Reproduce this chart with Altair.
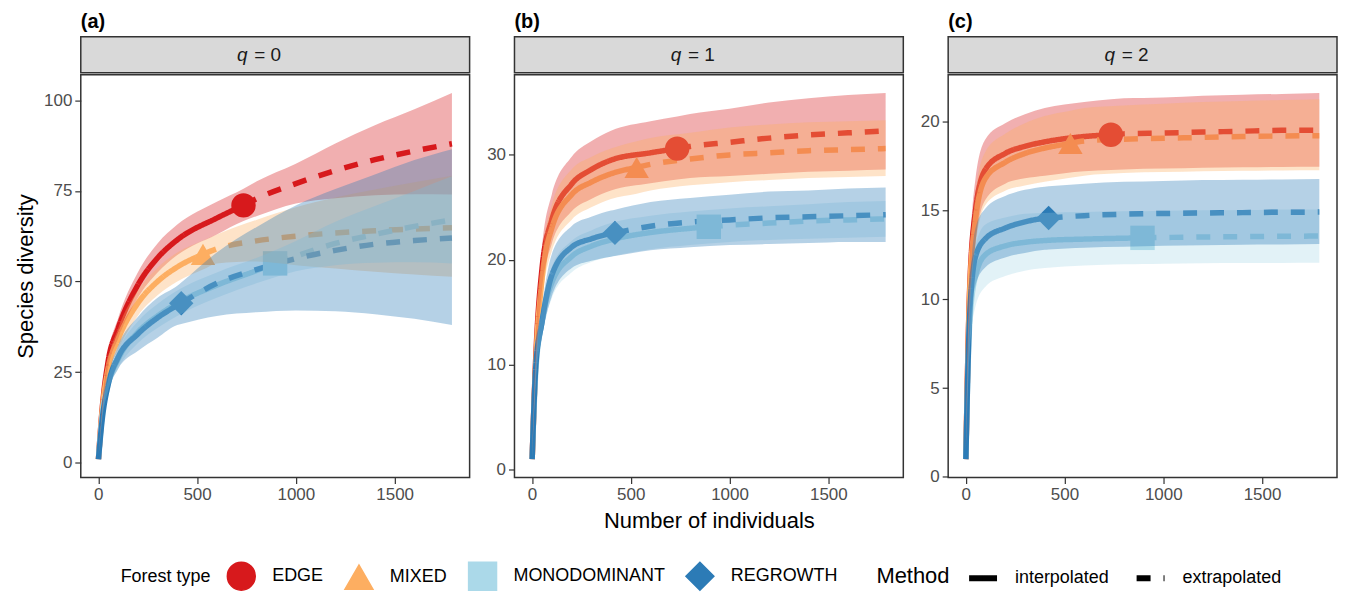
import altair as alt
import pandas as pd

# ---------------- data ----------------
FOREST_TYPES = ["EDGE", "MIXED", "MONODOMINANT", "REGROWTH"]
COLORS = ["#D7191C", "#FDAE61", "#ABD9E9", "#2C7BB6"]
SHAPES = ["circle", "triangle-up", "square", "diamond"]
METHODS = ["interpolated", "extrapolated"]
OBS_N = [735, 530, 895, 420]
Q_LABELS = ["0", "1", "2"]
PANEL_TAGS = ["(a)", "(b)", "(c)"]
X_GRID = [1, 20, 50, 100, 200, 300, 400, 600, 800, 1000, 1200, 1400, 1600, 1790]
X_TICKS = [0, 500, 1000, 1500]

# q = 0
Q0_EDGE_EST = [1, 15, 28, 37, 49, 56.5, 61.5, 67.5, 72.8, 77, 80.6, 83.6, 86, 88]
Q0_EDGE_LO = [1, 14, 26, 34.2, 45.5, 52.5, 57.3, 63, 68, 71.5, 73, 73.8, 74.1, 74]
Q0_EDGE_HI = [1, 16, 30, 39.8, 52.5, 60.5, 65.7, 72, 77.6, 82.5, 88.1, 93.1, 97.5, 102]
Q0_MIXED_EST = [1, 14.5, 26, 34, 44, 50, 54, 59, 61.2, 62.5, 63.4, 64, 64.5, 64.8]
Q0_MIXED_LO = [1, 13.5, 24, 31, 40.5, 46.2, 50, 55, 55.5, 54.5, 53.6, 52.7, 51.9, 51.3]
Q0_MIXED_HI = [1, 15.5, 28, 37, 47.5, 53.8, 58, 63, 67, 70.5, 73.2, 75.4, 77.4, 79.2]
Q0_MONO_EST = [1, 13, 21.5, 28.5, 36, 40.5, 44, 49, 53, 57, 60.5, 63, 65.2, 67]
Q0_MONO_LO = [1, 12, 19.8, 26, 33, 37.2, 40.5, 45.5, 49.5, 52.8, 54.5, 55.2, 55.3, 55]
Q0_MONO_HI = [1, 14, 23.2, 31, 39, 43.8, 47.5, 52.5, 56.5, 61.2, 66.5, 70.8, 75, 79]
Q0_REGROWTH_EST = [1, 12, 21.6, 29, 35.5, 40, 43.4, 49.5, 53.3, 56.3, 58.6, 60.3, 61.3, 62]
Q0_REGROWTH_LO = [1, 11, 19.5, 25.8, 30.8, 34.5, 38, 40.5, 41.5, 42, 41.8, 41, 39.7, 38]
Q0_REGROWTH_HI = [1, 13, 23.7, 32.2, 40.2, 45.5, 48.8, 58, 65, 71, 75.5, 79.5, 83.5, 86.5]
Q0_OBS_EST = [71, 57.5, 55, 44]
Q0_OBS_LO = [66.7, 53.3, 51.2, 38.3]
Q0_OBS_HI = [75.6, 61.3, 58.6, 49.7]

# q = 1
Q1_EDGE_EST = [1, 11, 19, 23.8, 27.2, 28.6, 29.5, 30.2, 30.8, 31.2, 31.6, 31.9, 32.1, 32.3]
Q1_EDGE_LO = [1, 9.5, 17, 21.5, 24.6, 25.8, 26.6, 27.3, 27.8, 28, 28.2, 28.4, 28.5, 28.6]
Q1_EDGE_HI = [1, 12.5, 21, 26.2, 29.8, 31.3, 32.3, 33.2, 33.9, 34.4, 35, 35.4, 35.7, 35.9]
Q1_MIXED_EST = [1, 10.5, 18, 23, 26.2, 27.4, 28.2, 29.1, 29.6, 30, 30.2, 30.4, 30.5, 30.6]
Q1_MIXED_LO = [1, 9.3, 16, 20.8, 23.8, 25, 25.8, 26.6, 27.1, 27.4, 27.6, 27.8, 27.9, 28]
Q1_MIXED_HI = [1, 11.7, 20, 25.2, 28.6, 29.8, 30.6, 31.6, 32.1, 32.6, 32.9, 33.1, 33.2, 33.3]
Q1_MONO_EST = [1, 9.5, 14, 17.8, 20.3, 21.3, 21.9, 22.6, 23, 23.3, 23.5, 23.7, 23.8, 23.9]
Q1_MONO_LO = [1, 8.5, 12.7, 16.3, 18.8, 19.8, 20.3, 21, 21.4, 21.7, 21.9, 22, 22.1, 22.2]
Q1_MONO_HI = [1, 10.5, 15.3, 19.3, 21.8, 22.8, 23.5, 24.2, 24.6, 24.9, 25.1, 25.3, 25.5, 25.6]
Q1_REGROWTH_EST = [1, 10, 14, 18.5, 21.2, 22, 22.5, 23.2, 23.6, 23.8, 24, 24.1, 24.2, 24.3]
Q1_REGROWTH_LO = [1, 8.8, 12.5, 16.5, 19.2, 19.9, 20.3, 20.9, 21.2, 21.4, 21.5, 21.6, 21.7, 21.7]
Q1_REGROWTH_HI = [1, 11.2, 15.5, 20.5, 23.2, 24.1, 24.7, 25.5, 25.9, 26.2, 26.5, 26.6, 26.8, 26.9]
Q1_OBS_EST = [30.6, 28.8, 23.15, 22.57]
Q1_OBS_LO = [27.65, 26.3, 21.55, 20.36]
Q1_OBS_HI = [33.65, 31.3, 24.75, 24.78]

# q = 2
Q2_EDGE_EST = [1, 10.5, 15, 17.3, 18.2, 18.6, 18.85, 19.15, 19.3, 19.35, 19.4, 19.45, 19.5, 19.5]
Q2_EDGE_LO = [1, 9, 13.2, 15.6, 16.5, 16.8, 16.95, 17.2, 17.3, 17.35, 17.4, 17.42, 17.44, 17.45]
Q2_EDGE_HI = [1, 12, 16.8, 19, 19.9, 20.4, 20.75, 21.1, 21.3, 21.35, 21.45, 21.5, 21.55, 21.6]
Q2_MIXED_EST = [1, 10.3, 14.5, 16.8, 17.7, 18.2, 18.5, 18.9, 19.0, 19.05, 19.1, 19.15, 19.18, 19.2]
Q2_MIXED_LO = [1, 9, 13, 15.3, 16.1, 16.4, 16.6, 16.95, 17.1, 17.15, 17.2, 17.22, 17.24, 17.25]
Q2_MIXED_HI = [1, 11.6, 16, 18.3, 19.3, 19.9, 20.3, 20.75, 20.9, 21.0, 21.1, 21.15, 21.2, 21.25]
Q2_MONO_EST = [1, 8.5, 11.3, 12.5, 13, 13.2, 13.3, 13.38, 13.43, 13.47, 13.5, 13.52, 13.54, 13.55]
Q2_MONO_LO = [1, 7, 9.6, 10.7, 11.3, 11.6, 11.75, 11.9, 11.96, 12, 12.02, 12.03, 12.04, 12.05]
Q2_MONO_HI = [1, 10, 13, 14.2, 14.6, 14.8, 14.85, 14.9, 14.94, 14.97, 15, 15.02, 15.04, 15.05]
Q2_REGROWTH_EST = [1, 9, 12.4, 13.4, 14, 14.35, 14.55, 14.7, 14.78, 14.82, 14.85, 14.87, 14.89, 14.9]
Q2_REGROWTH_LO = [1, 7.8, 10.8, 11.8, 12.35, 12.6, 12.78, 12.9, 12.95, 13.0, 13.03, 13.06, 13.08, 13.1]
Q2_REGROWTH_HI = [1, 10.2, 14, 15.1, 15.8, 16.15, 16.33, 16.5, 16.6, 16.65, 16.7, 16.72, 16.74, 16.76]
Q2_OBS_EST = [19.25, 18.76, 13.45, 14.57]
Q2_OBS_LO = [17.27, 16.83, 11.98, 12.8]
Q2_OBS_HI = [21.25, 20.6, 14.95, 16.35]

Y_DOMAINS = [[-4.05, 107.05], [-0.745, 37.645], [-0.03, 22.63]]
Y_TICKS = [[0, 25, 50, 75, 100], [0, 10, 20, 30], [0, 5, 10, 15, 20]]
X_DOMAIN = [-88.5, 1879.5]

PANELS = [
    ([Q0_EDGE_EST, Q0_MIXED_EST, Q0_MONO_EST, Q0_REGROWTH_EST],
     [Q0_EDGE_LO, Q0_MIXED_LO, Q0_MONO_LO, Q0_REGROWTH_LO],
     [Q0_EDGE_HI, Q0_MIXED_HI, Q0_MONO_HI, Q0_REGROWTH_HI],
     Q0_OBS_EST, Q0_OBS_LO, Q0_OBS_HI),
    ([Q1_EDGE_EST, Q1_MIXED_EST, Q1_MONO_EST, Q1_REGROWTH_EST],
     [Q1_EDGE_LO, Q1_MIXED_LO, Q1_MONO_LO, Q1_REGROWTH_LO],
     [Q1_EDGE_HI, Q1_MIXED_HI, Q1_MONO_HI, Q1_REGROWTH_HI],
     Q1_OBS_EST, Q1_OBS_LO, Q1_OBS_HI),
    ([Q2_EDGE_EST, Q2_MIXED_EST, Q2_MONO_EST, Q2_REGROWTH_EST],
     [Q2_EDGE_LO, Q2_MIXED_LO, Q2_MONO_LO, Q2_REGROWTH_LO],
     [Q2_EDGE_HI, Q2_MIXED_HI, Q2_MONO_HI, Q2_REGROWTH_HI],
     Q2_OBS_EST, Q2_OBS_LO, Q2_OBS_HI),
]

# ---------------- layout / style ----------------
FONT = "Liberation Sans"
PW, PH, HH = 390, 404, 36

def frames(est, lo, hi, oe, ol, oh):
    line_rows, area_rows, pt_rows = [], [], []
    for i, t in enumerate(FOREST_TYPES):
        n = OBS_N[i]
        pts = list(zip(X_GRID, est[i], lo[i], hi[i]))
        pts.append((n, oe[i], ol[i], oh[i]))
        pts.sort(key=lambda p: p[0])
        for x, e, l, h in pts:
            area_rows.append(dict(type=t, x=x, est=e, lo=l, hi=h))
            if x <= n:
                line_rows.append(dict(type=t, method=METHODS[0], x=x, est=e))
            if x >= n:
                line_rows.append(dict(type=t, method=METHODS[1], x=x, est=e))
        pt_rows.append(dict(type=t, x=n, est=oe[i]))
    return pd.DataFrame(line_rows), pd.DataFrame(area_rows), pd.DataFrame(pt_rows)

color_scale = alt.Scale(domain=FOREST_TYPES, range=COLORS)
shape_scale = alt.Scale(domain=FOREST_TYPES, range=SHAPES)
dash_scale = alt.Scale(domain=METHODS, range=[[1, 0], [14, 13]])

type_legend = alt.Legend(
    title="Forest type", orient="none", legendX=40, legendY=526,
    direction="horizontal", columns=4, titleOrient="left",
    titleAnchor="middle", titleBaseline="middle",
    symbolSize=784, symbolOpacity=1, labelFontSize=18, titleFontSize=18, titleFontWeight="normal",
    titleColor="black", labelColor="black", columnPadding=18, labelOffset=16,
    titlePadding=15, labelFont=FONT, titleFont=FONT,
)
method_legend = alt.Legend(
    title="Method", orient="none", legendX=798, legendY=526,
    direction="horizontal", columns=2, titleOrient="left",
    titleAnchor="middle", titleBaseline="middle",
    symbolType="stroke", symbolSize=784, symbolStrokeWidth=6,
    symbolStrokeColor="black", labelFontSize=18, titleFontSize=22,
    titleFontWeight="normal", titleColor="black", labelColor="black",
    columnPadding=15, labelOffset=15, titlePadding=16,
    labelFont=FONT, titleFont=FONT,
)


def make_panel(k):
    est, lo, hi, oe, ol, oh = PANELS[k]
    ldf, adf, pdf = frames(est, lo, hi, oe, ol, oh)
    x_axis = alt.Axis(values=X_TICKS, format="d",
                      title="Number of individuals" if k == 1 else None)
    y_axis = alt.Axis(values=Y_TICKS[k], format="d",
                      title="Species diversity" if k == 0 else None)
    xenc = alt.X("x:Q", scale=alt.Scale(domain=X_DOMAIN, nice=False, zero=False), axis=x_axis)
    yscale = alt.Scale(domain=Y_DOMAINS[k], nice=False, zero=False)
    cenc = alt.Color("type:N", scale=color_scale, legend=type_legend)

    lines = alt.Chart(ldf).mark_line(strokeWidth=5.5, interpolate="monotone").encode(
        x=xenc,
        y=alt.Y("est:Q", scale=yscale, axis=y_axis),
        color=cenc,
        strokeDash=alt.StrokeDash("method:N", scale=dash_scale, legend=method_legend),
        detail="method:N",
    )
    points = alt.Chart(pdf).mark_point(filled=True, opacity=1, size=600).encode(
        x=xenc,
        y=alt.Y("est:Q", scale=yscale, axis=y_axis),
        color=cenc,
        shape=alt.Shape("type:N", scale=shape_scale, legend=type_legend),
    )
    bands = alt.Chart(adf).mark_area(opacity=0.35, interpolate="monotone").encode(
        x=xenc,
        y=alt.Y("lo:Q", scale=yscale, axis=y_axis),
        y2="hi:Q",
        color=cenc,
    )
    plot = alt.layer(lines, points, bands).properties(width=PW, height=PH)

    hdf = pd.DataFrame({"q": ["q"], "rest": ["= " + Q_LABELS[k]]})
    q_txt = alt.Chart(hdf).mark_text(
        fontStyle="italic", fontSize=19, align="center", baseline="middle", font=FONT, color="#1A1A1A"
    ).encode(x=alt.value(162), y=alt.value(HH / 2), text="q:N")
    r_txt = alt.Chart(hdf).mark_text(
        fontSize=19, align="left", baseline="middle", font=FONT, color="#1A1A1A"
    ).encode(x=alt.value(174), y=alt.value(HH / 2), text="rest:N")
    header = alt.layer(q_txt, r_txt).properties(
        width=PW, height=HH,
        view=alt.ViewBackground(fill="#D9D9D9", stroke="#333333", strokeWidth=1.5),
        title=alt.TitleParams(PANEL_TAGS[k], anchor="start", fontSize=20, fontWeight="bold",
                              offset=5, font=FONT, color="black"),
    )
    return alt.vconcat(header, plot, spacing=0)


chart = alt.hconcat(make_panel(0), make_panel(1), make_panel(2), spacing=15).properties(
    padding={"left": 5, "top": 2, "right": 0, "bottom": 0}
).configure(font=FONT).configure_view(
    stroke="#333333", strokeWidth=1.5
).configure_axis(
    grid=False, domain=False, labelFontSize=17, labelColor="#4D4D4D", labelFont=FONT,
    tickColor="#333333", tickSize=6, tickWidth=1.2, labelPadding=3,
    titleFontSize=22, titleFontWeight="normal", titleColor="black", titleFont=FONT,
).configure_axisY(titlePadding=6).configure_axisX(titlePadding=8)

chart.save("out.html", embed_options={"renderer": "svg", "actions": False})
